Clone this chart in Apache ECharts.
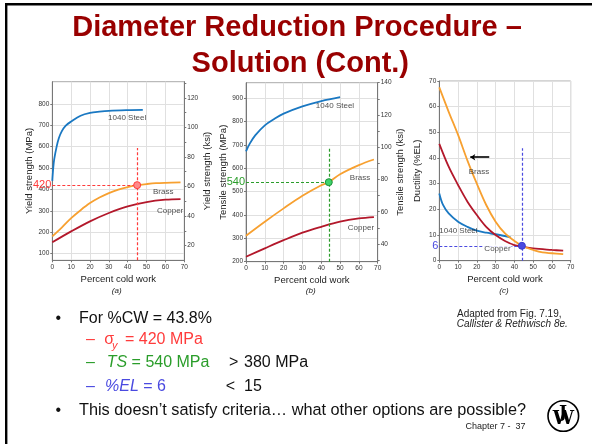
<!DOCTYPE html>
<html><head><meta charset="utf-8">
<script src="https://cdn.jsdelivr.net/npm/echarts@6.0.0/dist/echarts.min.js"></script>
<style>html,body{margin:0;padding:0;background:#fff}#c{width:592px;height:444px}</style>
</head><body><div id="c"></div>
<script>
// ---------- data ----------
const MPA_PER_KSI = 6.895;
const cwMin = 0, cwMax = 70, cwStep = 10;

// (a) yield strength, MPa
const yieldMin = 69, yieldMax = 903;
const yieldTicks = [100, 200, 300, 400, 500, 600, 700, 800];
const yieldKsiTicks = [20, 30, 40, 50, 60, 70, 80, 90, 100, 110, 120, 130];
const yieldKsiLabels = [20, 40, 60, 80, 100, 120];
const yieldSteel = [[0,440],[0.5,500],[1,540],[2.3,600],[3.5,640],[5,671],[7,697],[10,717],[15,744],[20,757],[25,763],[30,767],[40,770],[48,771]];
const yieldBrass = [[0,181],[5,222],[10,266],[15,303],[20,336],[25,362],[30,383],[35,399],[40,411],[45,420],[50,425],[55,429],[60,431],[68,433]];
const yieldCopper = [[0,153],[10,204],[20,251],[30,290],[40,321],[50,341],[60,352],[68,355]];
const yieldPoint = [45, 420];
const yieldGuideTop = 593;
const yieldLabels = [[39.7,735,'1040 Steel'],[58.8,389,'Brass'],[62.5,301,'Copper']];

// (b) tensile strength, MPa
const tensMin = 200, tensMax = 965.3;
const tensTicks = [200, 300, 400, 500, 600, 700, 800, 900];
const tensKsiTicks = [30, 40, 50, 60, 70, 80, 90, 100, 110, 120, 130, 140];
const tensKsiLabels = [40, 60, 80, 100, 120, 140];
const tensSteel = [[0,672],[2,705],[5,741],[10,783],[15,810],[20,833],[30,864],[40,887],[50,904]];
const tensBrass = [[0,311],[10,371],[20,428],[30,482],[40,527],[44,540],[50,574],[60,613],[68,637]];
const tensCopper = [[0,221],[10,257],[20,292],[30,324],[40,349],[50,371],[60,385],[68,391]];
const tensPoint = [44, 540];
const tensGuideTop = 691;
const tensLabels = [[47.3,866,'1040 Steel'],[60.6,558,'Brass'],[61.1,344,'Copper']];

// (c) ductility, %EL
const elMin = 0, elMax = 70, elStep = 10;
const elSteel = [[0,26.2],[2,21.7],[5,18.4],[10,15.2],[15,13.2],[20,11.7],[25,10.9],[30,10.3],[38,9.1]];
const elBrass = [[0,67.5],[5,58],[10,49],[15,39],[20,30],[25,21.7],[30,15.2],[35,10.6],[40,7.7],[44,5.8],[50,4.2],[55,3.2],[60,2.9],[66,2.6]];
const elCopper = [[0,45.5],[5,36.6],[10,29.5],[15,23],[20,17.8],[25,13.2],[30,10],[35,7.7],[40,6.1],[44,5.5],[50,4.8],[60,4.2],[66,3.9]];
const elPoint = [44, 5.8];
const elGuideTop = 43.8;
const elLabels = [[21.1,34.7,'Brass'],[10.2,11.6,'1040 Steel']];
const elCopperLabel = [31,4.7,'Copper'];
const elArrow = [[26.6,40.3],[16.5,40.3]];

// ---------- styling ----------
const FONT = 'Liberation Sans, Arial, sans-serif';
const C_STEEL = '#1a78c2', C_BRASS = '#f7a030', C_COPPER = '#b3182b';
const C_RED = '#ff3b3b', C_GREEN = '#2a9d2a', C_BLUE = '#4a4ae0';
const axisLineCol = '#777', gridCol = '#e0e0e0';

const grids = [
  {left: 52.3, top: 81.7, width: 132, height: 178.6},
  {left: 246, top: 82.7, width: 131.7, height: 179},
  {left: 439.3, top: 81, width: 131.4, height: 179.7}
].map(g => Object.assign({show: true, borderColor: '#aaa', borderWidth: 1, backgroundColor: 'transparent'}, g));

function xAx(i) {
  return {
    type: 'value', gridIndex: i, min: cwMin, max: cwMax, interval: cwStep,
    name: 'Percent cold work', nameLocation: 'middle', nameGap: 14,
    nameTextStyle: {fontFamily: FONT, fontSize: 9.5, color: '#222'},
    axisLine: {show: true, onZero: false, lineStyle: {color: axisLineCol, width: 1}},
    axisTick: {show: true, length: 2, lineStyle: {color: axisLineCol}},
    axisLabel: {fontFamily: FONT, fontSize: 6.5, color: '#333', margin: 3},
    splitLine: {show: true, lineStyle: {color: gridCol, width: 1}}
  };
}
function yAx(o) {
  const base = {
    type: 'value', nameLocation: 'middle', nameRotate: 90,
    nameTextStyle: {fontFamily: FONT, fontSize: 9.5, color: '#222'},
    axisLine: {show: true, lineStyle: {color: axisLineCol, width: 1}},
    axisLabel: {fontFamily: FONT, fontSize: 6.5, color: '#333', margin: 3},
    axisTick: {show: true, length: 2, lineStyle: {color: axisLineCol}},
    splitLine: {show: true, lineStyle: {color: gridCol, width: 1}}
  };
  const r = Object.assign(base, o.base || {});
  if (o.ticks) { r.axisTick.customValues = o.ticks; }
  if (o.labels) { r.axisLabel.customValues = o.labels; }
  if (o.noSplit) r.splitLine = {show: false};
  return r;
}

const yAxes = [
  yAx({base: {gridIndex: 0, position: 'left', min: yieldMin, max: yieldMax, name: 'Yield strength (MPa)', nameGap: 18}, ticks: yieldTicks, labels: yieldTicks}),
  yAx({base: {gridIndex: 0, position: 'right', min: yieldMin / MPA_PER_KSI, max: yieldMax / MPA_PER_KSI, name: 'Yield strength (ksi)', nameGap: 14}, ticks: yieldKsiTicks, labels: yieldKsiLabels, noSplit: true}),
  yAx({base: {gridIndex: 1, position: 'left', min: tensMin, max: tensMax, name: 'Tensile strength (MPa)', nameGap: 18}, ticks: tensTicks, labels: tensTicks}),
  yAx({base: {gridIndex: 1, position: 'right', min: tensMin / MPA_PER_KSI, max: tensMax / MPA_PER_KSI, name: 'Tensile strength (ksi)', nameGap: 15}, ticks: tensKsiTicks, labels: tensKsiLabels, noSplit: true}),
  yAx({base: {gridIndex: 2, position: 'left', min: elMin, max: elMax, interval: elStep, name: 'Ductility (%EL)', nameGap: 17}})
];

function curve(data, color, xi, yi, extra) {
  return Object.assign({
    type: 'line', data: data, xAxisIndex: xi, yAxisIndex: yi,
    smooth: 0.35, showSymbol: false, symbol: 'none', silent: true,
    lineStyle: {color: color, width: 1.8}, z: 3
  }, extra || {});
}

function guides(pt, top, bottom, color, labelText, fill, border) {
  return {
    markLine: {
      silent: true, symbol: 'none', animation: false,
      lineStyle: {color: color, type: [3, 2], width: 1.2},
      data: [
        [{coord: [cwMin, pt[1]], label: {show: true, position: 'start', formatter: labelText, color: color, fontFamily: FONT, fontSize: 11, distance: 1}},
         {coord: [pt[0], pt[1]]}],
        [{coord: [pt[0], bottom], label: {show: false}}, {coord: [pt[0], top]}]
      ]
    },
    markPoint: {
      silent: true, animation: false, symbol: 'circle', symbolSize: 7,
      itemStyle: {color: fill, borderColor: border, borderWidth: 1},
      label: {show: false},
      data: [{coord: pt}]
    }
  };
}

function textSeries(items, xi, yi, extraLabel) {
  return {
    type: 'scatter', xAxisIndex: xi, yAxisIndex: yi, symbolSize: 0, silent: true, z: 5,
    data: items.map(d => ({value: [d[0], d[1]], name: d[2]})),
    label: Object.assign({show: true, position: 'inside', formatter: '{b}', fontFamily: FONT, fontSize: 8, color: '#222'}, extraLabel || {})
  };
}

const series = [
  curve(yieldSteel, C_STEEL, 0, 0),
  curve(yieldCopper, C_COPPER, 0, 0),
  curve(yieldBrass, C_BRASS, 0, 0, guides(yieldPoint, yieldGuideTop, yieldMin, C_RED, '420', '#ff8a8a', '#ff3b3b')),
  textSeries(yieldLabels, 0, 0),

  curve(tensSteel, C_STEEL, 1, 2),
  curve(tensCopper, C_COPPER, 1, 2),
  curve(tensBrass, C_BRASS, 1, 2, guides(tensPoint, tensGuideTop, tensMin, C_GREEN, '540', '#3fd36a', '#1f8f3a')),
  textSeries(tensLabels, 1, 2),

  curve(elSteel, C_STEEL, 2, 4),
  curve(elCopper, C_COPPER, 2, 4),
  curve(elBrass, C_BRASS, 2, 4, guides(elPoint, elGuideTop, elMin, C_BLUE, '6', '#4a4ae0', '#3a3ad0')),
  textSeries(elLabels, 2, 4),
  textSeries([elCopperLabel], 2, 4, {backgroundColor: '#fff', padding: [0, 1]}),
  {
    type: 'line', xAxisIndex: 2, yAxisIndex: 4, data: [], silent: true,
    markLine: {
      silent: true, animation: false, symbol: ['none', 'arrow'], symbolSize: 5,
      lineStyle: {color: '#000', width: 1.6, type: 'solid'}, label: {show: false},
      data: [[{coord: elArrow[0]}, {coord: elArrow[1]}]]
    }
  }
];

function txt(x, y, text, font, fill, align, extra) {
  return {type: 'text', silent: true, z: 10, style: Object.assign({
    x: x, y: y, text: text, font: font, fill: fill,
    textAlign: align || 'left', align: align || 'left', textVerticalAlign: 'middle', verticalAlign: 'middle'
  }, extra || {})};
}
const F16 = '16px ' + FONT;
const graphics = [
  {type: 'rect', silent: true, z: 0, shape: {x: 6.2, y: 4.3, width: 800, height: 800}, style: {fill: 'none', stroke: '#000', lineWidth: 2.4}},
  txt(297, 28.3, 'Diameter Reduction Procedure –', 'bold 29px ' + FONT, '#990000', 'center'),
  txt(300.3, 64, 'Solution (Cont.)', 'bold 29px ' + FONT, '#990000', 'center'),
  txt(116.7, 291, '(a)', 'italic 8px ' + FONT, '#222', 'center'),
  txt(310.7, 291, '(b)', 'italic 8px ' + FONT, '#222', 'center'),
  txt(504, 291, '(c)', 'italic 8px ' + FONT, '#222', 'center'),
  txt(457, 313.8, 'Adapted from Fig. 7.19,', '10px ' + FONT, '#222'),
  txt(456.7, 323.8, 'Callister & Rethwisch 8e.', 'italic 10px ' + FONT, '#222'),
  txt(55.5, 318.6, '•', F16, '#111'),
  txt(79, 318.6, 'For %CW = 43.8%', F16, '#111'),
  txt(86, 340, '–', F16, C_RED),
  txt(104.3, 340, 'σ', F16, C_RED),
  txt(112, 346, 'y', 'italic 11px ' + FONT, C_RED),
  txt(125, 340, '= 420 MPa', F16, C_RED),
  txt(86, 362.6, '–', F16, C_GREEN),
  txt(106.7, 362.6, '{i|TS} = 540 MPa', F16, C_GREEN, 'left', {rich: {i: {font: 'italic 16px ' + FONT, fill: C_GREEN}}}),
  txt(229, 362.6, '>', F16, '#111'),
  txt(244, 362.6, '380 MPa', F16, '#111'),
  txt(86, 387, '–', F16, C_BLUE),
  txt(105, 387, '{i|%EL} = 6', F16, C_BLUE, 'left', {rich: {i: {font: 'italic 16px ' + FONT, fill: C_BLUE}}}),
  txt(225.7, 387, '<', F16, '#111'),
  txt(244, 387, '15', F16, '#111'),
  txt(55.5, 410.3, '•', F16, '#111'),
  txt(79, 410.3, 'This doesn’t satisfy criteria… what other options are possible?', '16.3px ' + FONT, '#111'),
  txt(525.5, 426.9, 'Chapter 7 -  37', '9px "Liberation Sans Narrow", ' + FONT, '#222', 'right'),
  {type: 'circle', silent: true, z: 10, shape: {cx: 563.3, cy: 416, r: 15.3}, style: {fill: '#fff', stroke: '#000', lineWidth: 1.6}},
  txt(563.5, 419, 'W', 'bold 19px "DejaVu Serif", serif', '#000', 'center'),
  txt(563, 413, 'J', 'bold 17px "DejaVu Serif", serif', '#000', 'center')
];

const chart = echarts.init(document.getElementById('c'), null, {renderer: 'canvas'});
chart.setOption({
  animation: false,
  backgroundColor: '#fff',
  textStyle: {fontFamily: FONT},
  grid: grids,
  xAxis: [xAx(0), xAx(1), xAx(2)],
  yAxis: yAxes,
  series: series,
  graphic: graphics
});
</script></body></html>
